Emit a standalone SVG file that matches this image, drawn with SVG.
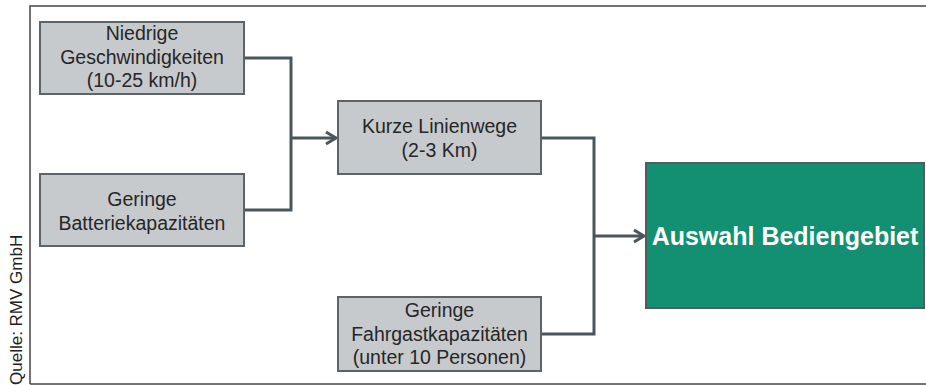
<svg xmlns="http://www.w3.org/2000/svg" width="926" height="385" viewBox="0 0 926 385">
<style>
.box{fill:#c7cacd;stroke:#5c6469;stroke-width:2}
.t{font-family:"Liberation Sans",Arial,sans-serif;font-size:19.5px;fill:#262626;text-anchor:middle}
.con{fill:none;stroke:#4b565c;stroke-width:3}
.frame{fill:none;stroke:#444;stroke-width:1.5}
</style>
<defs>
<marker id="arr" markerUnits="userSpaceOnUse" markerWidth="16" markerHeight="16" refX="13" refY="8" orient="auto">
<path d="M3,2 L13,8 L3,14" fill="none" stroke="#4b565c" stroke-width="3"/>
</marker>
</defs>
<rect width="926" height="385" fill="#fff"/>
<path class="frame" d="M30,384 L30,6 L926,6"/>
<path class="frame" d="M30,384 L926,384"/>
<text transform="translate(22,385) rotate(-90)" font-family="'Liberation Sans',Arial,sans-serif" font-size="17" fill="#222">Quelle: RMV GmbH</text>
<g id="connectors">
<path class="con" d="M244,58 L291,58 L291,210 L244,210"/>
<path class="con" d="M291,138 L336,138" marker-end="url(#arr)"/>
<path class="con" d="M541,138 L594,138 L594,334 L541,334"/>
<path class="con" d="M594,236 L644,236" marker-end="url(#arr)"/>
</g>
<g id="n1">
<rect class="box" x="40" y="22" width="204" height="72"/>
<text class="t" x="142" y="40">Niedrige</text>
<text class="t" x="142" y="64">Geschwindigkeiten</text>
<text class="t" x="142" y="87">(10-25 km/h)</text>
</g>
<g id="n2">
<rect class="box" x="40" y="174" width="204" height="72"/>
<text class="t" x="142" y="206">Geringe</text>
<text class="t" x="142" y="230">Batteriekapazitäten</text>
</g>
<g id="n3">
<rect class="box" x="338" y="101" width="203" height="73"/>
<text class="t" x="439.5" y="133">Kurze Linienwege</text>
<text class="t" x="439.5" y="157">(2-3 Km)</text>
</g>
<g id="n4">
<rect class="box" x="338" y="297" width="203" height="74"/>
<text class="t" x="439.5" y="317">Geringe</text>
<text class="t" x="439.5" y="341">Fahrgastkapazitäten</text>
<text class="t" x="439.5" y="364">(unter 10 Personen)</text>
</g>
<g id="n5">
<rect x="646" y="163" width="278" height="145" fill="#138f72" stroke="#4f5d5c" stroke-width="2"/>
<text x="785" y="245" font-family="'Liberation Sans',Arial,sans-serif" font-size="25" font-weight="bold" fill="#fff" text-anchor="middle">Auswahl Bediengebiet</text>
</g>
</svg>
